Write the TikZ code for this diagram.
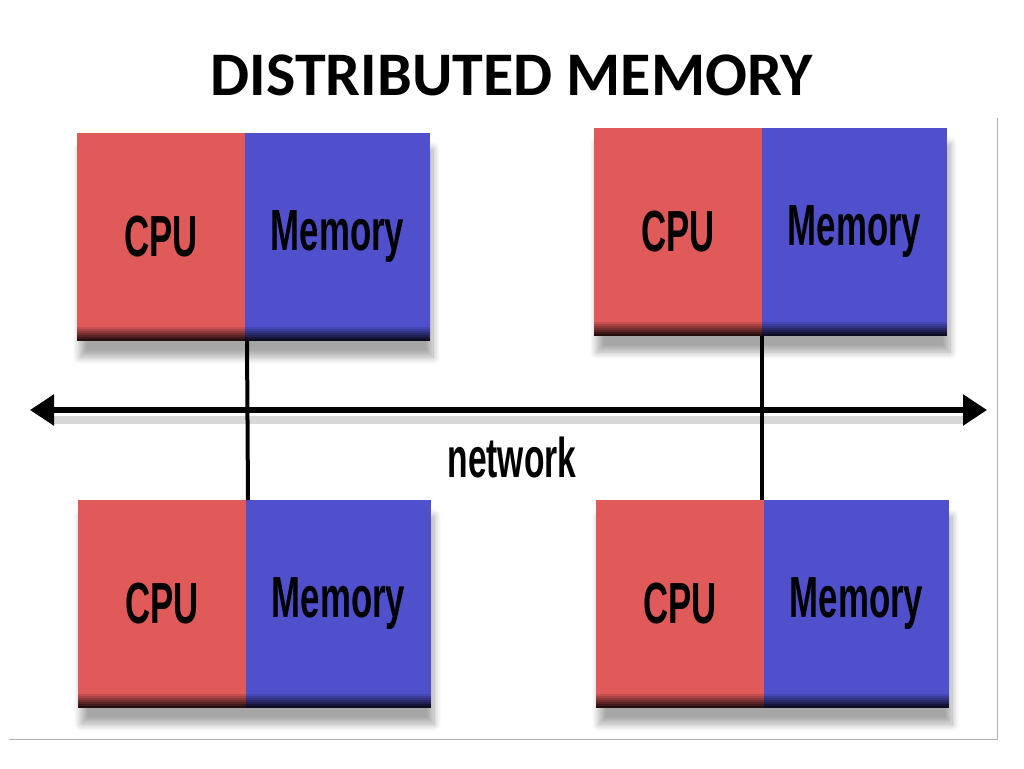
\documentclass[tikz,border=0pt]{standalone}
\usepackage{fontspec}
\setmainfont{Carlito}
\newfontfamily\boxfont{Liberation Sans}[FakeStretch=0.6]
\usepackage{tikz}
\usetikzlibrary{arrows.meta,positioning,shadows.blur,backgrounds}

\definecolor{cpured}{RGB}{224,90,90}
\definecolor{memblue}{RGB}{80,80,204}

\tikzset{
  unit/.style = {inner sep=0pt, outer sep=0pt, minimum height=208pt, font=\boxfont\bfseries\fontsize{58}{60}\selectfont,
    path picture={\foreach \k in {1,...,7}
      \fill[#1!\the\numexpr100-\k*12\relax!black]
      ([yshift=16pt-\k*2pt]path picture bounding box.south west) rectangle (path picture bounding box.south east);}},
  cpubox/.style = {unit=cpured, fill=cpured, minimum width=168pt},
  membox/.style = {unit=memblue, fill=memblue, minimum width=185pt},
  pairshadow/.style = {blur shadow={shadow xshift=3pt, shadow yshift=-16pt, shadow opacity=35,
    shadow blur radius=7pt, shadow blur steps=12}},
  bus/.style = {line width=5.5pt, {Triangle[length=24pt,width=30pt]}-{Triangle[length=24pt,width=30pt]}},
  tap/.style = {line width=4pt}
}

\begin{document}
\begin{tikzpicture}[x=1pt, y=-1pt]
\useasboundingbox (0,0) rectangle (1024,768);

\node (title) at (512,75) {\bfseries\fontsize{62}{68}\selectfont DISTRIBUTED MEMORY};

% frame
\draw[gray!60, line width=1pt] (9,739) -- (997,739) -- (997,118);

% network
\coordinate (netL) at (30,410);
\coordinate (netR) at (987,410);
\draw[black!35, line width=8pt, opacity=0.45] ([shift={(20pt,-10pt)}]netL) -- ([shift={(-20pt,-10pt)}]netR);
\draw[bus] (netL) -- (netR);
\node (net) [font=\boxfont\bfseries\fontsize{56}{60}\selectfont] at (512,457) {network};

% nodes
\node[cpubox, anchor=north west] (cpu1) at (77,133) {CPU};
\node[membox] (mem1) [right = 0pt of cpu1] {Memory};
\node[cpubox, anchor=north west] (cpu2) at (594,128) {CPU};
\node[membox] (mem2) [right = 0pt of cpu2] {Memory};
\node[cpubox, anchor=north west] (cpu3) at (78,500) {CPU};
\node[membox] (mem3) [right = 0pt of cpu3] {Memory};
\node[cpubox, anchor=north west] (cpu4) at (596,500) {CPU};
\node[membox] (mem4) [right = 0pt of cpu4] {Memory};

\begin{scope}[on background layer]
  \foreach \i in {1,...,4}
    \path[pairshadow] (cpu\i.north west) rectangle (mem\i.south east);
\end{scope}

\draw[tap] ([xshift=2pt]mem1.south west) -- ([xshift=2pt]mem3.north west);
\draw[tap] (mem2.south west) -- (mem4.north west -| mem2.south west);
\end{tikzpicture}
\end{document}
